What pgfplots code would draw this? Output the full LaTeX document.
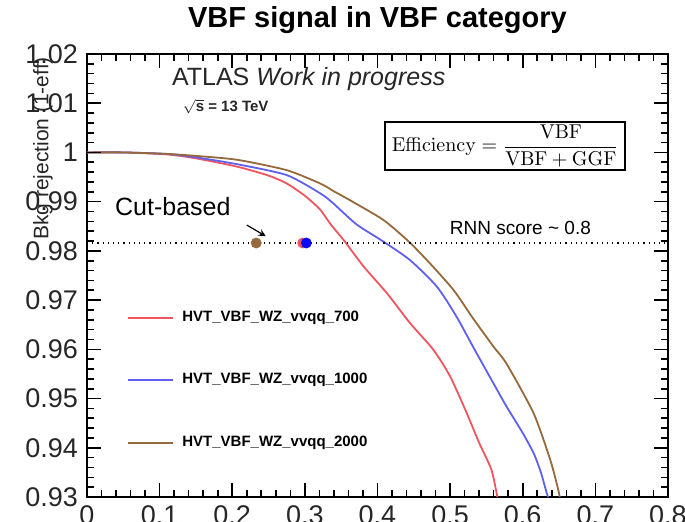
\documentclass[border=0pt]{standalone}
\usepackage[no-math]{fontspec}
\setmainfont{Liberation Sans}
\usepackage{pgfplots}
\pgfplotsset{compat=1.18}
\definecolor{cred}{RGB}{240,85,95}
\definecolor{cblue}{RGB}{95,95,240}
\definecolor{cbrown}{RGB}{150,105,60}
\begin{document}
\begin{tikzpicture}
\begin{axis}[
  scale only axis, width=290.5pt, height=221.5pt,
  xmin=0, xmax=0.8, ymin=0.93, ymax=1.02,
  xtick={0,0.1,0.2,0.3,0.4,0.5,0.6,0.7,0.8},
  xticklabels={0,0.1,0.2,0.3,0.4,0.5,0.6,0.7,0.8},
  ytick={0.93,0.94,0.95,0.96,0.97,0.98,0.99,1,1.01,1.02},
  yticklabels={0.93,0.94,0.95,0.96,0.97,0.98,0.99,1,1.01,1.02},
  minor x tick num=4, minor y tick num=4,
  tick align=inside, tick pos=both,
  major tick length=7pt, minor tick length=3.6pt,
  tick style={black, line width=0.8pt},
  axis line style={black, line width=0.8pt},
  tick label style={font=\fontsize{13.5}{15}\selectfont, text=black!85},
  xticklabel style={yshift=-1pt},
  yticklabel style={xshift=-1pt},
  clip=false,
  legend cell align=left,
  legend style={at={(axis cs:0.047,0.9695)}, anchor=north west, draw=none, fill=none,
    font=\fontsize{7.5}{9}\selectfont\bfseries, row sep=20.5pt,
    /tikz/every odd column/.append style={column sep=2pt}},
  legend image code/.code={\draw[#1] (0pt,0pt) -- (22.5pt,0pt);},
]
\addplot[cred, line width=0.9pt, smooth, tension=0.4] coordinates {
(0,1.0) (0.05,1.0) (0.11,0.9996) (0.15,0.9988) (0.207,0.9971) (0.25,0.9953) (0.275,0.9937)
(0.30,0.9912) (0.321,0.9884) (0.335,0.9855) (0.355,0.9819) (0.381,0.9768) (0.413,0.9714)
(0.445,0.9653) (0.477,0.9599) (0.50,0.9545) (0.523,0.947) (0.54,0.941) (0.557,0.9355) (0.565,0.93)};
\addlegendentry{HVT\_VBF\_WZ\_vvqq\_700}
\addplot[cblue, line width=0.9pt, smooth, tension=0.4] coordinates {
(0,1.0) (0.05,1.0) (0.11,0.9997) (0.15,0.9990) (0.207,0.9976) (0.275,0.9954) (0.321,0.9917)
(0.338,0.9898) (0.371,0.9854) (0.408,0.9819) (0.445,0.9781) (0.482,0.9727) (0.509,0.9666)
(0.532,0.9604) (0.56,0.9530) (0.578,0.9483) (0.6,0.943) (0.615,0.9389) (0.625,0.935)
(0.633,0.9308) (0.635,0.93)};
\addlegendentry{HVT\_VBF\_WZ\_vvqq\_1000}
\addplot[cbrown, line width=0.9pt, smooth, tension=0.4] coordinates {
(0,1.0) (0.05,1.0) (0.11,0.9997) (0.15,0.9993) (0.207,0.9985) (0.275,0.9964) (0.321,0.9937)
(0.340,0.9921) (0.362,0.9903) (0.408,0.9863) (0.443,0.9819) (0.472,0.9775) (0.505,0.9720)
(0.532,0.9662) (0.560,0.9605) (0.578,0.9570) (0.615,0.947) (0.638,0.9375) (0.648,0.932) (0.651,0.93)};
\addlegendentry{HVT\_VBF\_WZ\_vvqq\_2000}
\addplot[black, dotted, line width=0.6pt, forget plot] coordinates {(0,0.9816) (0.8,0.9816)};
\addplot[only marks, mark=*, mark size=2.5pt, cbrown, forget plot] coordinates {(0.233,0.9816)};
\addplot[only marks, mark=*, mark size=2.5pt, cred, forget plot] coordinates {(0.297,0.9816)};
\addplot[only marks, mark=*, mark size=2.5pt, blue!90!cblue, forget plot] coordinates {(0.302,0.9816)};
% tick marks drawn explicitly as well (ROOT style, on all four sides)
\pgfplotsinvokeforeach{0.02,0.04,0.06,0.08,0.12,0.14,0.16,0.18,0.22,0.24,0.26,0.28,0.32,0.34,0.36,0.38,0.42,0.44,0.46,0.48,0.52,0.54,0.56,0.58,0.62,0.64,0.66,0.68,0.72,0.74,0.76,0.78}{
  \draw[black, line width=0.8pt] (axis cs:#1,0.93) -- ([yshift=3.6pt]axis cs:#1,0.93);
  \draw[black, line width=0.8pt] (axis cs:#1,1.02) -- ([yshift=-3.6pt]axis cs:#1,1.02);
}
\pgfplotsinvokeforeach{0.1,0.2,0.3,0.4,0.5,0.6,0.7}{
  \draw[black, line width=0.8pt] (axis cs:#1,0.93) -- ([yshift=7pt]axis cs:#1,0.93);
  \draw[black, line width=0.8pt] (axis cs:#1,1.02) -- ([yshift=-7pt]axis cs:#1,1.02);
}
\pgfplotsinvokeforeach{0.932,0.934,0.936,0.938,0.942,0.944,0.946,0.948,0.952,0.954,0.956,0.958,0.962,0.964,0.966,0.968,0.972,0.974,0.976,0.978,0.982,0.984,0.986,0.988,0.992,0.994,0.996,0.998,1.002,1.004,1.006,1.008,1.012,1.014,1.016,1.018}{
  \draw[black, line width=0.8pt] (axis cs:0,#1) -- ([xshift=3.6pt]axis cs:0,#1);
  \draw[black, line width=0.8pt] (axis cs:0.8,#1) -- ([xshift=-3.6pt]axis cs:0.8,#1);
}
\pgfplotsinvokeforeach{0.94,0.95,0.96,0.97,0.98,0.99,1.0,1.01}{
  \draw[black, line width=0.8pt] (axis cs:0,#1) -- ([xshift=7pt]axis cs:0,#1);
  \draw[black, line width=0.8pt] (axis cs:0.8,#1) -- ([xshift=-7pt]axis cs:0.8,#1);
}
\draw[-stealth, black, line width=0.6pt] (axis cs:0.220,0.98525) -- (axis cs:0.246,0.9830);
\node[anchor=base west, font=\fontsize{12.5}{14}\selectfont, text=black!85] at (axis cs:0.1074,1.0135) {ATLAS \textit{Work in progress}};
\node[anchor=base west, font=\fontsize{7.5}{9}\selectfont\bfseries, text=black!85] at (axis cs:0.122,1.0083) {$\sqrt{\mbox{s}}$ = 13 TeV};
\node[anchor=base west, font=\fontsize{12.5}{14}\selectfont] at (axis cs:0.029,0.9872) {Cut-based};
\node[anchor=base west, font=\fontsize{9.5}{11}\selectfont] at (axis cs:0.490,0.9834) {RNN score \textasciitilde\ 0.8};
\node[draw, line width=0.9pt, minimum width=120pt, minimum height=24pt, inner sep=1pt, font=\fontsize{10}{12}\selectfont] at (axis cs:0.576,1.0013) {$\displaystyle\mathrm{Efficiency} = \frac{\mathrm{VBF}}{\mathrm{VBF + GGF}}$};
\node[rotate=90, anchor=east, font=\fontsize{10.5}{12}\selectfont, text=black!85] at ([xshift=-22pt, yshift=2pt]rel axis cs:0,1) {Bkg rejection (1-eff)};
\node[font=\fontsize{14.5}{17}\selectfont\bfseries] at ([yshift=17pt]rel axis cs:0.5,1) {VBF signal in VBF category};
\end{axis}
\pgfresetboundingbox
\path (-43.5pt,-12.5pt) rectangle (299pt,248.5pt);
\end{tikzpicture}
\end{document}
